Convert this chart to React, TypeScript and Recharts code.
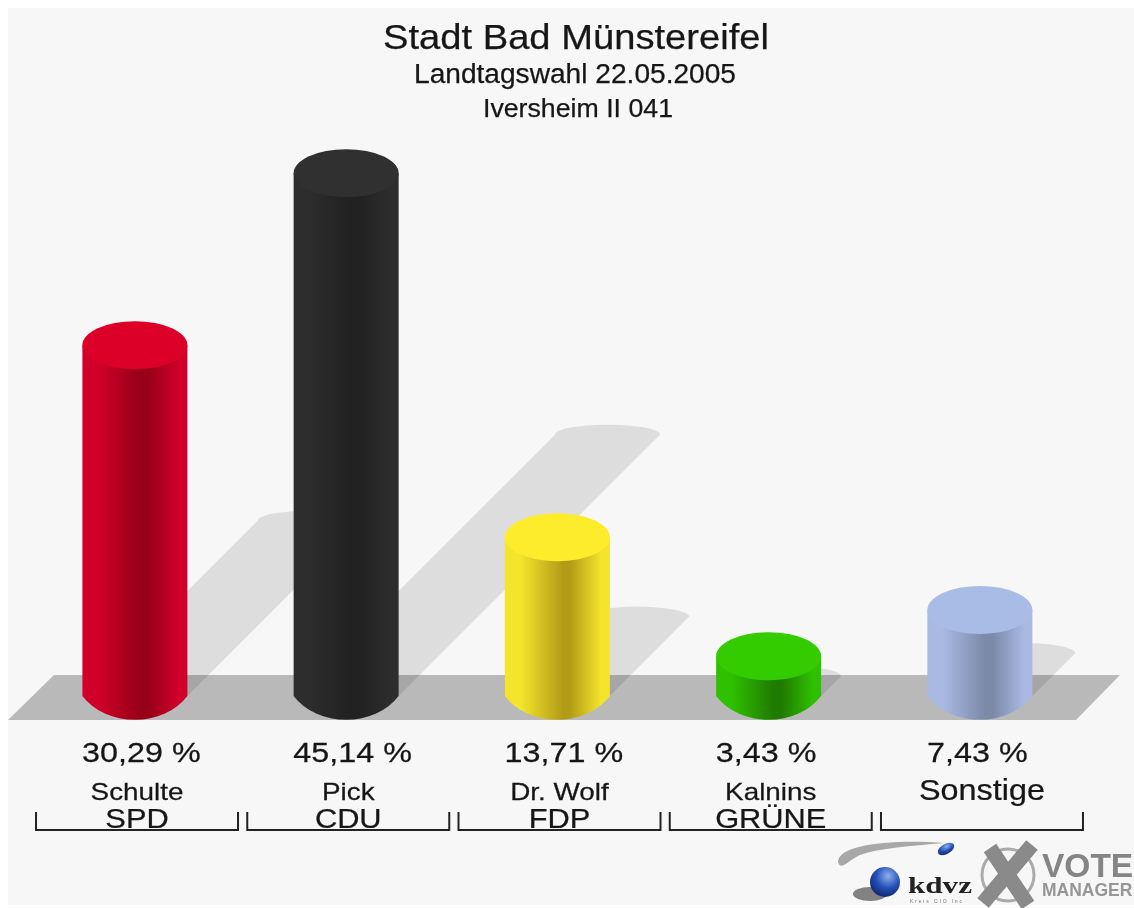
import { BarChart, Bar, XAxis, YAxis } from "recharts";

const candidates = ["Schulte", "Pick", "Dr. Wolf", "Kalnins", "Sonstige"];
const parties = ["SPD", "CDU", "FDP", "GRÜNE", ""];
const shares = [30.29, 45.14, 13.71, 3.43, 7.43];

// top, left/right of body, dark band of body
const topColors = ["#dc0028", "#303030", "#fdec2c", "#33cc00", "#a9bce6"];
const edgeColors = ["#d0002a", "#2d2d2d", "#f4e52c", "#2fc000", "#a9b9e2"];
const darkColors = ["#960018", "#212121", "#b29c16", "#1f7a00", "#7c89a8"];

const rows = candidates.map((name, i) => ({ name, party: parties[i], share: shares[i] }));

const FONT = '"Liberation Sans", Arial, sans-serif';
const RX = 52.5;
const RY = 24;
const BASE_Y = 672; // y of value 0
const FOOT_Y = BASE_Y + RY; // centre of the bottom ellipse

function Cylinder(props: any) {
  const { x, y, width, height, index } = props;
  const cx = x + width / 2;
  const l = cx - RX;
  const r = cx + RX;
  const d = height / 2;
  const topY = y + RY;
  const shadow =
    `M${l} ${FOOT_Y} L${l + d} ${FOOT_Y - d} ` +
    `A${RX} 10 0 0 1 ${r + d} ${FOOT_Y - d} L${r} ${FOOT_Y} Z`;
  return (
    <g>
      <path d={shadow} fill="#000" fillOpacity={0.1} />
      <path
        d={`M${l} ${topY} L${l} ${FOOT_Y} A62 51 0 0 0 ${r} ${FOOT_Y} L${r} ${topY} Z`}
        fill={`url(#body${index})`}
      />
      <ellipse cx={cx} cy={topY} rx={RX} ry={RY} fill={topColors[index]} />
    </g>
  );
}

// glyphs in the picture are wider than Liberation Sans, so stretch them a bit
function WideText({ x, y, size, stretch, anchor, children }: any) {
  return (
    <text
      transform={`translate(${x} ${y}) scale(${stretch} 1)`}
      fontSize={size}
      textAnchor={anchor}
      stroke="#161616"
      strokeWidth={0.25}
    >
      {children}
    </text>
  );
}

function CandidateTick(props: any) {
  const { x, index } = props;
  const row = rows[index];
  const noParty = row.party === "";
  const bx = x + 2;
  return (
    <g fontFamily={FONT} fill="#161616">
      <WideText x={x - 53} y={762} size={28} stretch={1.155} anchor="start">
        {row.share.toFixed(2).replace(".", ",")} %
      </WideText>
      <WideText
        x={bx}
        y={800}
        size={noParty ? 29 : 24}
        stretch={noParty ? 1.116 : 1.16}
        anchor="middle"
      >
        {row.name}
      </WideText>
      <WideText x={bx} y={828} size={28} stretch={1.1} anchor="middle">
        {row.party}
      </WideText>
      <path
        d={`M${bx - 101} 812 V830 H${bx + 101} V812`}
        fill="none"
        stroke="#222"
        strokeWidth={2}
      />
    </g>
  );
}

function Backdrop() {
  return (
    <svg width={1134} height={908} style={{ position: "absolute", left: 0, top: 0 }}>
      <defs>
        <radialGradient id="ball" cx="0.6" cy="0.3" r="0.8">
          <stop offset="0" stopColor="#8fb0ee" />
          <stop offset="0.5" stopColor="#2450b8" />
          <stop offset="1" stopColor="#0c1f60" />
        </radialGradient>
      </defs>
      <rect x={8} y={8} width={1126} height={897} fill="#f7f7f7" />
      <path d="M8 720 L54 675 H1120 L1076 720 Z" fill="#b9b9b9" />
      <g fontFamily={FONT} fill="#161616" textAnchor="middle" stroke="#161616" strokeWidth={0.25}>
        <text x={576} y={49} fontSize={35} textLength={386} lengthAdjust="spacingAndGlyphs">
          Stadt Bad Münstereifel
        </text>
        <text x={575} y={83} fontSize={27} textLength={322} lengthAdjust="spacingAndGlyphs">
          Landtagswahl 22.05.2005
        </text>
        <text x={578} y={117} fontSize={26} textLength={190} lengthAdjust="spacingAndGlyphs">
          Iversheim II 041
        </text>
      </g>
      {/* logos */}
      <path d="M945 843 C890 839 838 845 838 862 C841 871 846 862 860 855 C880 848 910 846 945 843 Z" fill="#a8a8a8" />
      <ellipse cx={870} cy={894} rx={17} ry={7} fill="#333" opacity={0.6} />
      <circle cx={885} cy={882} r={15} fill="url(#ball)" />
      <ellipse cx={946} cy={849} rx={9} ry={5} fill="url(#ball)" transform="rotate(-30 946 849)" />
      <text x={908} y={893} fontSize={24} fontWeight="bold" fontFamily='"Liberation Serif", serif' fill="#222" textLength={64} lengthAdjust="spacingAndGlyphs">
        kdvz
      </text>
      <text x={910} y={903} fontSize={5} fontFamily={FONT} fill="#777" textLength={52}>
        Kreis  CIO  Inc
      </text>
      <circle cx={1008} cy={875} r={26} fill="none" stroke="#aaa" strokeWidth={3} />
      <path d="M990 848 L1028 905 M1032 845 L983 903" stroke="#8a8a8a" strokeWidth={15} fill="none" />
      <text x={1042} y={877} fontSize={33.5} fontWeight="bold" fontFamily={FONT} fill="#858585">VOTE</text>
      <text x={1042} y={896} fontSize={17.5} fontWeight="bold" fontFamily={FONT} fill="#969696">MANAGER</text>
    </svg>
  );
}

export default function App() {
  return (
    <div
      style={{
        position: "absolute",
        left: 0,
        top: 0,
        width: 1134,
        height: 908,
        background: "#fff",
        overflow: "hidden",
        filter: "blur(0.6px)",
      }}
    >
      <Backdrop />
      <div style={{ position: "absolute", left: 0, top: 0 }}>
        <BarChart
          width={1134}
          height={908}
          data={rows}
          margin={{ top: 93, right: 48.4, bottom: 0, left: 29.4 }}
          barSize={105}
        >
          <defs>
            {edgeColors.map((c, i) => (
              <linearGradient key={i} id={`body${i}`} x1="0" x2="1" y1="0" y2="0">
                <stop offset="0" stopColor={c} />
                <stop offset="0.15" stopColor={c} />
                <stop offset="0.55" stopColor={darkColors[i]} />
                <stop offset="0.62" stopColor={darkColors[i]} />
                <stop offset="0.92" stopColor={c} />
                <stop offset="1" stopColor={c} />
              </linearGradient>
            ))}
          </defs>
          <XAxis
            dataKey="name"
            height={236}
            interval={0}
            axisLine={false}
            tickLine={false}
            tick={<CandidateTick />}
          />
          <YAxis hide domain={[0, 50]} />
          <Bar dataKey="share" isAnimationActive={false} shape={<Cylinder />} />
        </BarChart>
      </div>
    </div>
  );
}
